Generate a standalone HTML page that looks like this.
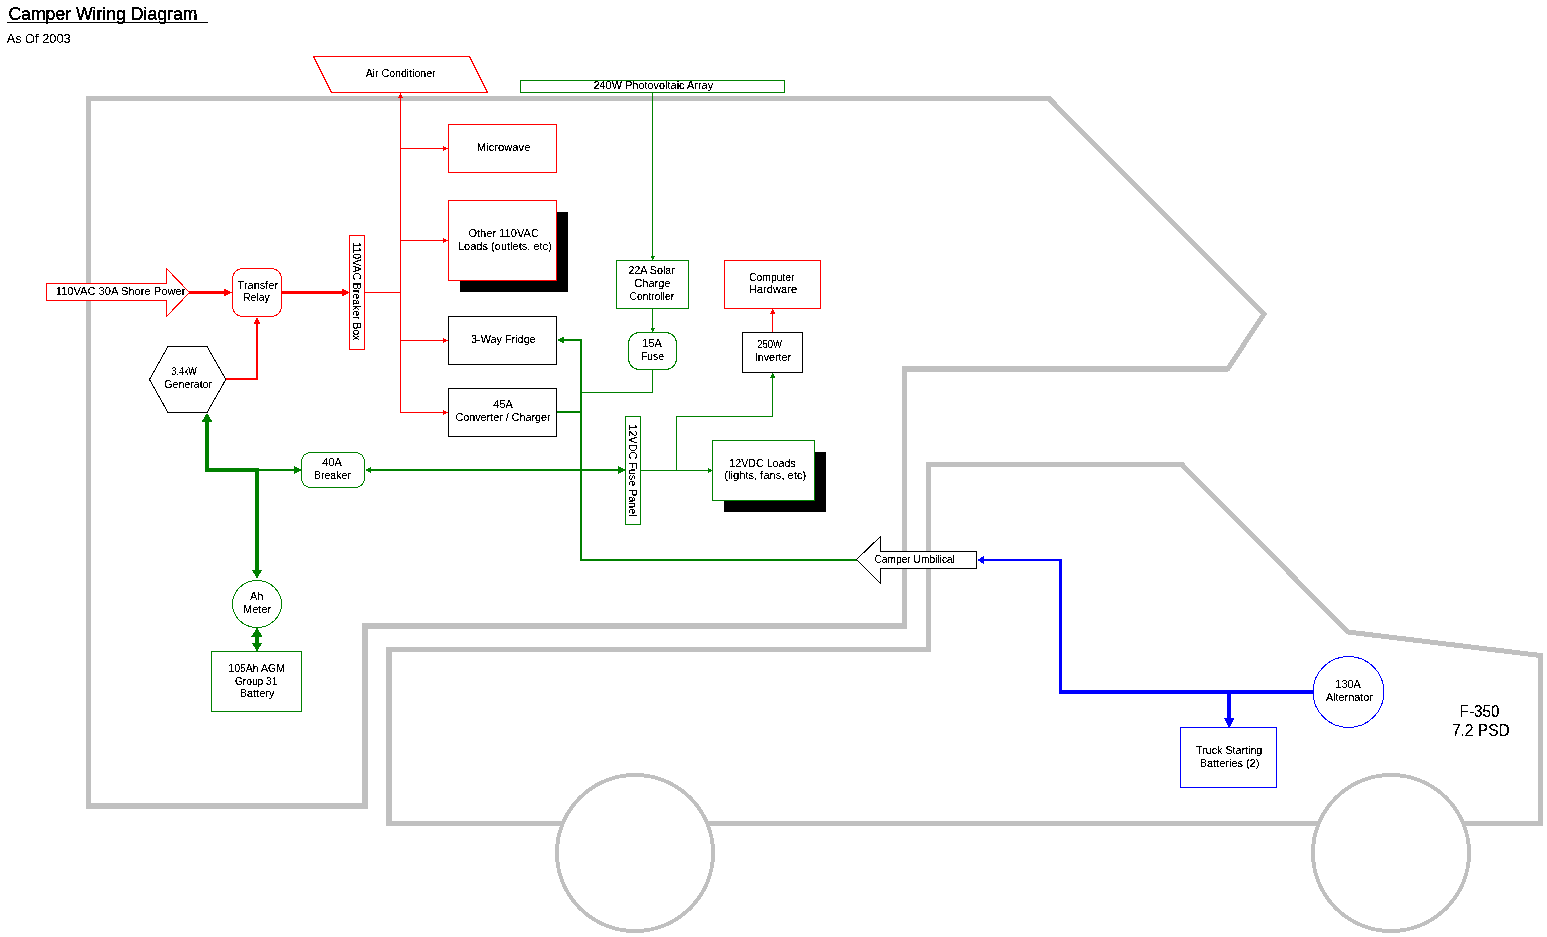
<!DOCTYPE html>
<html><head><meta charset="utf-8"><title>Camper Wiring Diagram</title>
<style>html,body{margin:0;padding:0;background:#fff;width:1547px;height:937px;overflow:hidden}
svg{display:block}
text{font-family:"Liberation Sans", sans-serif;fill:#000}</style></head>
<body><svg width="1547" height="937" viewBox="0 0 1547 937" shape-rendering="crispEdges">
<defs><filter id="crisp" x="0" y="0" width="1547" height="937" filterUnits="userSpaceOnUse"><feComponentTransfer><feFuncA type="discrete" tableValues="0 0 1 1 1"/></feComponentTransfer></filter></defs>
<rect x="0" y="0" width="1547" height="937" fill="#fff"/>
<path d="M88.5 98.5 L1049 98.5 L1264 314 L1228 368.5 L904.5 368.5 L904.5 625.5 L365 625.5 L365 806 L88.5 806 Z" fill="none" stroke="#c0c0c0" stroke-width="5" stroke-linejoin="miter"/>
<path d="M389 649.5 L928.5 649.5 L928.5 464.5 L1182 464.5 L1348 632 L1540.5 655.5 L1540.5 823.5 L389 823.5 Z" fill="none" stroke="#c0c0c0" stroke-width="5" stroke-linejoin="miter"/>
<rect x="362" y="623" width="6" height="186" fill="#c0c0c0"/>
<rect x="362" y="623" width="545" height="6" fill="#c0c0c0"/>
<rect x="902" y="366" width="326" height="6" fill="#c0c0c0"/>
<rect x="86" y="803" width="282" height="6" fill="#c0c0c0"/>
<rect x="386" y="647" width="6" height="179" fill="#c0c0c0"/>
<circle cx="635" cy="853" r="78" fill="#fff" stroke="#c0c0c0" stroke-width="4"/>
<circle cx="1391" cy="853" r="78" fill="#fff" stroke="#c0c0c0" stroke-width="4"/>
<rect x="7" y="22" width="201" height="1" fill="#000"/>
<polyline points="400.5,95 400.5,412.5" fill="none" stroke="#ff0000" stroke-width="1" stroke-linejoin="miter" stroke-linecap="square"/>
<polygon points="400.5,93 398,98 403,98" fill="#ff0000"/>
<polyline points="400.5,148.5 443,148.5" fill="none" stroke="#ff0000" stroke-width="1" stroke-linejoin="miter" stroke-linecap="square"/>
<polygon points="448,148.5 443,146 443,151" fill="#ff0000"/>
<polyline points="400.5,240.5 443,240.5" fill="none" stroke="#ff0000" stroke-width="1" stroke-linejoin="miter" stroke-linecap="square"/>
<polygon points="448,240.5 443,238 443,243" fill="#ff0000"/>
<polyline points="400.5,340.5 443,340.5" fill="none" stroke="#ff0000" stroke-width="1" stroke-linejoin="miter" stroke-linecap="square"/>
<polygon points="448,340.5 443,338 443,343" fill="#ff0000"/>
<polyline points="400.5,412.5 443,412.5" fill="none" stroke="#ff0000" stroke-width="1" stroke-linejoin="miter" stroke-linecap="square"/>
<polygon points="448,412.5 443,410 443,415" fill="#ff0000"/>
<polyline points="365,292.5 400.5,292.5" fill="none" stroke="#ff0000" stroke-width="1" stroke-linejoin="miter" stroke-linecap="square"/>
<polyline points="190,292.5 226,292.5" fill="none" stroke="#ff0000" stroke-width="3" stroke-linejoin="miter" stroke-linecap="square"/>
<polygon points="232,292.5 224,288.5 224,296.5" fill="#ff0000"/>
<polyline points="282,292.5 343,292.5" fill="none" stroke="#ff0000" stroke-width="3" stroke-linejoin="miter" stroke-linecap="square"/>
<polygon points="349.5,292.5 341.5,288.5 341.5,296.5" fill="#ff0000"/>
<polyline points="226,379 257,379 257,323" fill="none" stroke="#ff0000" stroke-width="2" stroke-linejoin="miter" stroke-linecap="square"/>
<polygon points="257,317 253.5,324 260.5,324" fill="#ff0000"/>
<polyline points="652.5,93 652.5,256" fill="none" stroke="#008000" stroke-width="1" stroke-linejoin="miter" stroke-linecap="square"/>
<polygon points="652.5,260.5 650,255.5 655,255.5" fill="#008000"/>
<polyline points="652.5,309 652.5,328" fill="none" stroke="#008000" stroke-width="1" stroke-linejoin="miter" stroke-linecap="square"/>
<polygon points="652.5,332.5 650,327.5 655,327.5" fill="#008000"/>
<polyline points="652.5,370 652.5,392.5 581,392.5" fill="none" stroke="#008000" stroke-width="1" stroke-linejoin="miter" stroke-linecap="square"/>
<polyline points="563,340 581,340 581,560 856,560" fill="none" stroke="#008000" stroke-width="2" stroke-linejoin="miter" stroke-linecap="square"/>
<polygon points="557,340 564,336.5 564,343.5" fill="#008000"/>
<polyline points="557,412 581,412" fill="none" stroke="#008000" stroke-width="2" stroke-linejoin="miter" stroke-linecap="square"/>
<polyline points="207,421 207,470 257,470 257,570" fill="none" stroke="#008000" stroke-width="4" stroke-linejoin="miter" stroke-linecap="square"/>
<polygon points="207,413 201.5,422 212.5,422" fill="#008000"/>
<polygon points="257,578.5 251.5,569.5 262.5,569.5" fill="#008000"/>
<polyline points="257,470 294,470" fill="none" stroke="#008000" stroke-width="2.5" stroke-linejoin="miter" stroke-linecap="square"/>
<polygon points="301.5,470 293.5,466 293.5,474" fill="#008000"/>
<polyline points="371,470 618,470" fill="none" stroke="#008000" stroke-width="2" stroke-linejoin="miter" stroke-linecap="square"/>
<polygon points="365,470 371,467 371,473" fill="#008000"/>
<polygon points="625.5,470 617.5,466 617.5,474" fill="#008000"/>
<polyline points="257,636 257,643" fill="none" stroke="#008000" stroke-width="4" stroke-linejoin="miter" stroke-linecap="square"/>
<polygon points="257,627.5 251.5,636.5 262.5,636.5" fill="#008000"/>
<polygon points="257,651.5 251.5,642.5 262.5,642.5" fill="#008000"/>
<polyline points="641,470.5 707,470.5" fill="none" stroke="#008000" stroke-width="1" stroke-linejoin="miter" stroke-linecap="square"/>
<polygon points="712.5,470.5 707.5,468 707.5,473" fill="#008000"/>
<polyline points="676.5,470.5 676.5,416.5 772.5,416.5 772.5,378" fill="none" stroke="#008000" stroke-width="1" stroke-linejoin="miter" stroke-linecap="square"/>
<polygon points="772.5,372.5 770,377.5 775,377.5" fill="#008000"/>
<polyline points="772.5,332 772.5,314" fill="none" stroke="#ff0000" stroke-width="1" stroke-linejoin="miter" stroke-linecap="square"/>
<polygon points="772.5,308.5 770,313.5 775,313.5" fill="#ff0000"/>
<rect x="983" y="559" width="79" height="2" fill="#0000ff"/>
<polygon points="977,560 984,556 984,564" fill="#0000ff"/>
<rect x="1059" y="559" width="3" height="135" fill="#0000ff"/>
<rect x="1059" y="690" width="254" height="4" fill="#0000ff"/>
<rect x="1227" y="690" width="4" height="30" fill="#0000ff"/>
<polygon points="1229,728.5 1223.5,717.5 1234.5,717.5" fill="#0000ff"/>
<polygon points="313.5,56.5 469.5,56.5 487.5,92.5 331.5,92.5" fill="#fff" stroke="#ff0000" stroke-width="1"/>
<rect x="448.5" y="124.5" width="108" height="48" rx="0" fill="#fff" stroke="#ff0000" stroke-width="1"/>
<rect x="460" y="212" width="108" height="80" fill="#000"/>
<rect x="448.5" y="200.5" width="108" height="80" rx="0" fill="#fff" stroke="#ff0000" stroke-width="1"/>
<rect x="448.5" y="316.5" width="108" height="48" rx="0" fill="#fff" stroke="#000000" stroke-width="1"/>
<rect x="448.5" y="388.5" width="108" height="48" rx="0" fill="#fff" stroke="#000000" stroke-width="1"/>
<polygon points="46.5,283.5 166.5,283.5 166.5,268.5 189.5,292.5 166.5,316.5 166.5,300.5 46.5,300.5" fill="#fff" stroke="#ff0000" stroke-width="1"/>
<rect x="232.5" y="268.5" width="49" height="48" rx="10" fill="#fff" stroke="#ff0000" stroke-width="1"/>
<rect x="349.5" y="235.5" width="15" height="114" rx="0" fill="#fff" stroke="#ff0000" stroke-width="1"/>
<polygon points="149.5,379.5 168,346.5 207,346.5 225.8,379.5 207,412.5 168,412.5" fill="#fff" stroke="#000" stroke-width="1"/>
<rect x="301.5" y="452.5" width="63" height="35" rx="9" fill="#fff" stroke="#008000" stroke-width="1"/>
<ellipse cx="257" cy="604" rx="24.5" ry="23.5" fill="#fff" stroke="#008000" stroke-width="1"/>
<rect x="211.5" y="651.5" width="90" height="60" rx="0" fill="#fff" stroke="#008000" stroke-width="1"/>
<rect x="520.5" y="80.5" width="264" height="12" rx="0" fill="#fff" stroke="#008000" stroke-width="1"/>
<rect x="616.5" y="260.5" width="72" height="48" rx="0" fill="#fff" stroke="#008000" stroke-width="1"/>
<rect x="628.5" y="332.5" width="48" height="37" rx="11" fill="#fff" stroke="#008000" stroke-width="1"/>
<rect x="724.5" y="260.5" width="96" height="48" rx="0" fill="#fff" stroke="#ff0000" stroke-width="1"/>
<rect x="742.5" y="332.5" width="60" height="40" rx="0" fill="#fff" stroke="#000000" stroke-width="1"/>
<rect x="625.5" y="416.5" width="15" height="107.5" rx="0" fill="#fff" stroke="#008000" stroke-width="1"/>
<rect x="724" y="452" width="102" height="60" fill="#000"/>
<rect x="712.5" y="440.5" width="102" height="60" rx="0" fill="#fff" stroke="#008000" stroke-width="1"/>
<polygon points="856.5,559.5 880.5,536.5 880.5,551.5 976.5,551.5 976.5,568.5 880.5,568.5 880.5,583.5" fill="#fff" stroke="#000" stroke-width="1"/>
<rect x="1180.5" y="727.5" width="96" height="60" rx="0" fill="#fff" stroke="#0000ff" stroke-width="1"/>
<circle cx="1348.5" cy="692" r="35.5" fill="#fff" stroke="#0000ff" stroke-width="1"/>
<g filter="url(#crisp)">
<text x="8.375" y="20" font-size="18" text-anchor="start" textLength="189" lengthAdjust="spacingAndGlyphs" stroke="#000" stroke-width="0.2">Camper Wiring Diagram</text>
<text x="6.625" y="43" font-size="13" text-anchor="start" textLength="64" lengthAdjust="spacingAndGlyphs">As Of 2003</text>
<text x="400.625" y="77" font-size="11" text-anchor="middle" textLength="70" lengthAdjust="spacingAndGlyphs">Air Conditioner</text>
<text x="503.625" y="151" font-size="11" text-anchor="middle" textLength="53.6" lengthAdjust="spacingAndGlyphs">Microwave</text>
<text x="503.675" y="236.7" font-size="11" text-anchor="middle" textLength="70.6" lengthAdjust="spacingAndGlyphs">Other 110VAC</text>
<text x="504.875" y="249.8" font-size="11" text-anchor="middle" textLength="93.9" lengthAdjust="spacingAndGlyphs">Loads (outlets, etc)</text>
<text x="503.375" y="343" font-size="11" text-anchor="middle" textLength="64.7" lengthAdjust="spacingAndGlyphs">3-Way Fridge</text>
<text x="503.125" y="407.6" font-size="11" text-anchor="middle">45A</text>
<text x="503.025" y="420.7" font-size="11" text-anchor="middle" textLength="95.2" lengthAdjust="spacingAndGlyphs">Converter / Charger</text>
<text x="120.525" y="295" font-size="11" text-anchor="middle" textLength="129.8" lengthAdjust="spacingAndGlyphs">110VAC 30A Shore Power</text>
<text x="257.875" y="288.8" font-size="11" text-anchor="middle" textLength="40.6" lengthAdjust="spacingAndGlyphs">Transfer</text>
<text x="256.375" y="300.7" font-size="11" text-anchor="middle" textLength="26.5" lengthAdjust="spacingAndGlyphs">Relay</text>
<text x="291.5" y="-353" font-size="11" text-anchor="middle" textLength="98" lengthAdjust="spacingAndGlyphs" transform="rotate(90)">110VAC Breaker Box</text>
<text x="184.125" y="375" font-size="11" text-anchor="middle" textLength="25.4" lengthAdjust="spacingAndGlyphs">3.4kW</text>
<text x="188.175" y="387.6" font-size="11" text-anchor="middle" textLength="47.7" lengthAdjust="spacingAndGlyphs">Generator</text>
<text x="332.125" y="466.4" font-size="11" text-anchor="middle">40A</text>
<text x="332.325" y="478.7" font-size="11" text-anchor="middle" textLength="36.9" lengthAdjust="spacingAndGlyphs">Breaker</text>
<text x="256.625" y="599.8" font-size="11" text-anchor="middle">Ah</text>
<text x="257.125" y="612.6" font-size="11" text-anchor="middle">Meter</text>
<text x="256.625" y="671.8" font-size="11" text-anchor="middle" textLength="56.6" lengthAdjust="spacingAndGlyphs">105Ah AGM</text>
<text x="256.175" y="685" font-size="11" text-anchor="middle" textLength="42.6" lengthAdjust="spacingAndGlyphs">Group 31</text>
<text x="257.125" y="697" font-size="11" text-anchor="middle" textLength="34.6" lengthAdjust="spacingAndGlyphs">Battery</text>
<text x="653.275" y="88.8" font-size="11" text-anchor="middle" textLength="119.7" lengthAdjust="spacingAndGlyphs">240W Photovoltaic Array</text>
<text x="651.625" y="274" font-size="11" text-anchor="middle" textLength="46.4" lengthAdjust="spacingAndGlyphs">22A Solar</text>
<text x="652.375" y="286.8" font-size="11" text-anchor="middle">Charge</text>
<text x="651.875" y="299.6" font-size="11" text-anchor="middle" textLength="44.8" lengthAdjust="spacingAndGlyphs">Controller</text>
<text x="652.125" y="346.8" font-size="11" text-anchor="middle">15A</text>
<text x="652.525" y="359.6" font-size="11" text-anchor="middle" textLength="23.2" lengthAdjust="spacingAndGlyphs">Fuse</text>
<text x="771.775" y="280.9" font-size="11" text-anchor="middle" textLength="45.3" lengthAdjust="spacingAndGlyphs">Computer</text>
<text x="773.025" y="292.6" font-size="11" text-anchor="middle" textLength="48.4" lengthAdjust="spacingAndGlyphs">Hardware</text>
<text x="769.625" y="347.6" font-size="11" text-anchor="middle" textLength="25" lengthAdjust="spacingAndGlyphs">250W</text>
<text x="772.975" y="360.7" font-size="11" text-anchor="middle" textLength="36.3" lengthAdjust="spacingAndGlyphs">Inverter</text>
<text x="470.6" y="-629" font-size="11" text-anchor="middle" textLength="92" lengthAdjust="spacingAndGlyphs" transform="rotate(90)">12VDC Fuse Panel</text>
<text x="762.525" y="466.8" font-size="11" text-anchor="middle" textLength="66.2" lengthAdjust="spacingAndGlyphs">12VDC Loads</text>
<text x="765.275" y="479" font-size="11" text-anchor="middle" textLength="81.9" lengthAdjust="spacingAndGlyphs">(lights, fans, etc)</text>
<text x="914.725" y="562.7" font-size="11" text-anchor="middle" textLength="80.4" lengthAdjust="spacingAndGlyphs">Camper Umbilical</text>
<text x="1229.22" y="754" font-size="11" text-anchor="middle" textLength="66.2" lengthAdjust="spacingAndGlyphs">Truck Starting</text>
<text x="1229.58" y="766.8" font-size="11" text-anchor="middle" textLength="59.6" lengthAdjust="spacingAndGlyphs">Batteries (2)</text>
<text x="1348.12" y="687.7" font-size="11" text-anchor="middle">130A</text>
<text x="1349.42" y="700.5" font-size="11" text-anchor="middle" textLength="47" lengthAdjust="spacingAndGlyphs">Alternator</text>
<text x="1479.62" y="717" font-size="16" text-anchor="middle" textLength="40" lengthAdjust="spacingAndGlyphs">F-350</text>
<text x="1480.88" y="736" font-size="16" text-anchor="middle" textLength="58" lengthAdjust="spacingAndGlyphs">7.2 PSD</text>
</g>
</svg></body></html>
